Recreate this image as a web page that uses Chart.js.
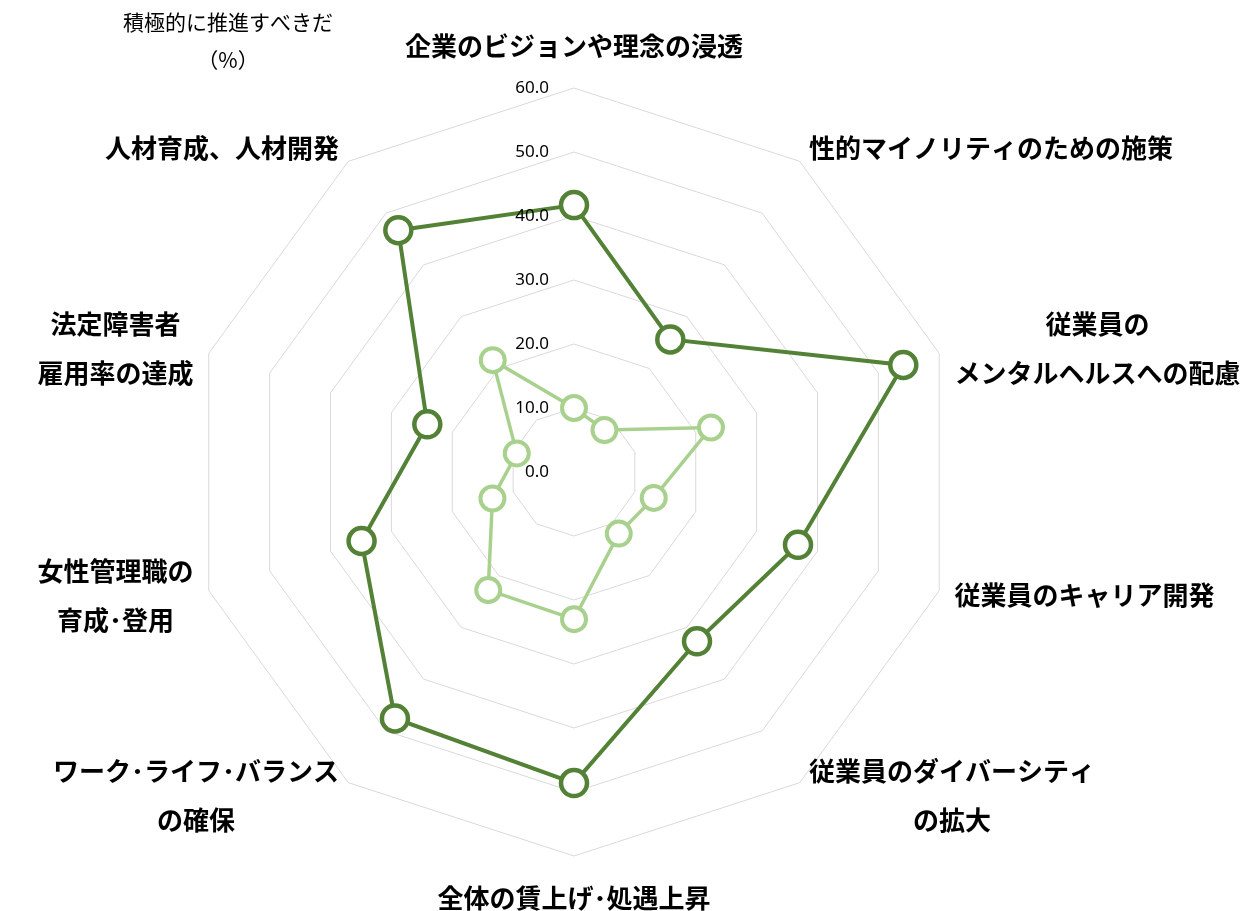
<!DOCTYPE html>
<html lang="ja">
<head>
<meta charset="utf-8">
<title>レーダーチャート</title>
<script src="https://cdn.jsdelivr.net/npm/chart.js@4.4.1/dist/chart.umd.min.js"></script>
<style>
  html, body { margin: 0; padding: 0; background: #fff; }
  #wrap { width: 1240px; height: 911px; position: relative; }
</style>
</head>
<body>
<div id="wrap"><canvas id="radar"></canvas></div>
<script>
// データ
const categories = [
    ['企業のビジョンや理念の浸透'],
    ['性的マイノリティのための施策'],
    ['従業員の', 'メンタルヘルスへの配慮'],
    ['従業員のキャリア開発'],
    ['従業員のダイバーシティ', 'の拡大'],
    ['全体の賃上げ･処遇上昇'],
    ['ワーク･ライフ･バランス', 'の確保'],
    ['女性管理職の', '育成･登用'],
    ['法定障害者', '雇用率の達成'],
    ['人材育成、人材開発']
];
const seriesDark = [41.7, 25.6, 54.1, 36.8, 32.7, 48.6, 47.6, 34.9, 24.1, 46.7];
const seriesLight = [10.0, 8.1, 22.5, 13.1, 11.9, 23.0, 22.8, 13.4, 9.4, 21.6];
const tickValues = [0, 10, 20, 30, 40, 50, 60];
const tickLabels = ['0.0', '10.0', '20.0', '30.0', '40.0', '50.0', '60.0'];
const axisTitle = ['積極的に推進すべきだ', '（%）'];

const DARK = '#538135';
const LIGHT = '#A9D18E';
const JP_FONT = '"Noto Sans CJK JP", "Noto Sans", sans-serif';

// ラベル描画（項目名・目盛・左上のタイトル）
const labelPlugin = {
    id: 'labelPlugin',
    afterDraw(chart) {
        const ctx = chart.ctx;
        const scale = chart.scales.r;
        const outer = scale.getDistanceFromCenterForValue(60);
        ctx.save();
        ctx.fillStyle = '#000';

        // 目盛ラベル
        ctx.font = '17px "Noto Sans", "DejaVu Sans", sans-serif';
        ctx.textAlign = 'right';
        ctx.textBaseline = 'middle';
        tickValues.forEach((v, i) => {
            const y = scale.yCenter - scale.getDistanceFromCenterForValue(v);
            ctx.fillText(tickLabels[i], scale.xCenter - 25, y);
        });

        // 項目名
        ctx.font = 'bold 26px ' + JP_FONT;
        const lineH = 49;
        categories.forEach((lines, i) => {
            const angle = (Math.PI * 2 / categories.length) * i;
            const sin = Math.sin(angle);
            const cos = Math.cos(angle);
            let px, py, left;
            const widths = lines.map(l => ctx.measureText(l).width);
            const blockW = Math.max(...widths);
            const blockH = lineH * lines.length;
            if (Math.abs(sin) < 0.01) {
                const d = outer + 42;
                px = scale.xCenter;
                py = scale.yCenter - cos * d;
                left = px - blockW / 2;
            } else {
                const d = outer + 16;
                px = scale.xCenter + sin * d;
                py = scale.yCenter - cos * d;
                left = sin > 0 ? px : px - blockW;
            }
            ctx.textAlign = 'center';
            ctx.textBaseline = 'middle';
            lines.forEach((l, k) => {
                const y = py - blockH / 2 + lineH * (k + 0.5);
                ctx.fillText(l, left + blockW / 2, y);
            });
        });

        // 左上のタイトル
        ctx.font = '21px ' + JP_FONT;
        ctx.textAlign = 'center';
        ctx.textBaseline = 'middle';
        ctx.fillText(axisTitle[0], 228, 22);
        ctx.fillText(axisTitle[1], 228, 60);
        ctx.restore();
    }
};

const ctx = document.getElementById('radar').getContext('2d');
new Chart(ctx, {
    type: 'radar',
    data: {
        labels: categories.map(c => c.join('')),
        datasets: [
            {
                label: '積極的に推進すべきだ',
                data: seriesDark,
                borderColor: DARK,
                borderWidth: 4,
                pointRadius: 13,
                pointBorderWidth: 4.5,
                pointBorderColor: DARK,
                pointBackgroundColor: '#fff',
                fill: false,
                tension: 0
            },
            {
                label: '比較',
                data: seriesLight,
                borderColor: LIGHT,
                borderWidth: 3.5,
                pointRadius: 12,
                pointBorderWidth: 4,
                pointBorderColor: LIGHT,
                pointBackgroundColor: '#fff',
                fill: false,
                tension: 0
            }
        ]
    },
    options: {
        responsive: true,
        maintainAspectRatio: false,
        animation: false,
        layout: {
            padding: { left: 0, right: 92, top: 88, bottom: 55 }
        },
        plugins: {
            legend: { display: false },
            tooltip: { enabled: false }
        },
        scales: {
            r: {
                min: 0,
                max: 60,
                ticks: { stepSize: 10, display: false },
                angleLines: { display: false },
                grid: { color: '#d9d9d9', lineWidth: 1 },
                pointLabels: { display: false }
            }
        }
    },
    plugins: [labelPlugin]
});
</script>
</body>
</html>
